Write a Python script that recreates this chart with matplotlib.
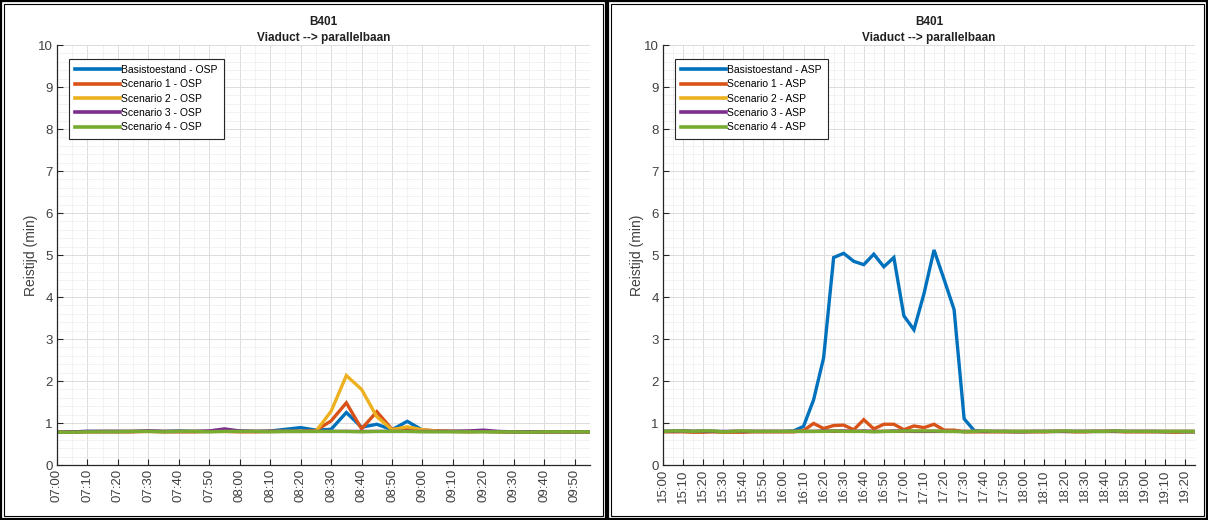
import numpy as np
import pandas as pd
import matplotlib
matplotlib.use('Agg')
import matplotlib.pyplot as plt
from matplotlib.patches import Rectangle
from matplotlib.ticker import MultipleLocator

plt.rcParams['font.family'] = ['Liberation Sans', 'DejaVu Sans']

# 5-minute travel times (minutes), morning peak (OSP) and evening peak (ASP)
osp_times = pd.date_range('2020-01-01 07:00', '2020-01-01 09:55', freq='5min')
asp_times = pd.date_range('2020-01-01 15:00', '2020-01-01 19:25', freq='5min')

osp_names = ['Basistoestand - OSP', 'Scenario 1 - OSP', 'Scenario 2 - OSP',
             'Scenario 3 - OSP', 'Scenario 4 - OSP']
asp_names = ['Basistoestand - ASP', 'Scenario 1 - ASP', 'Scenario 2 - ASP',
             'Scenario 3 - ASP', 'Scenario 4 - ASP']

osp_base = [0.78, 0.79, 0.80, 0.80, 0.80, 0.80, 0.81, 0.80, 0.81, 0.80, 0.80, 0.81,
            0.81, 0.80, 0.81, 0.85, 0.89, 0.83, 0.85, 1.25, 0.90, 0.97, 0.84, 1.04,
            0.83, 0.81, 0.80, 0.80, 0.80, 0.79, 0.79, 0.79, 0.79, 0.79, 0.79, 0.79]
osp_s1 = [0.78, 0.78, 0.79, 0.79, 0.79, 0.79, 0.80, 0.79, 0.79, 0.79, 0.80, 0.80,
          0.79, 0.79, 0.80, 0.80, 0.80, 0.82, 1.05, 1.48, 0.86, 1.27, 0.85, 0.87,
          0.83, 0.81, 0.80, 0.79, 0.80, 0.79, 0.79, 0.78, 0.78, 0.79, 0.79, 0.79]
osp_s2 = [0.78, 0.79, 0.79, 0.80, 0.80, 0.80, 0.80, 0.80, 0.80, 0.80, 0.80, 0.80,
          0.80, 0.80, 0.80, 0.80, 0.80, 0.80, 1.28, 2.13, 1.80, 1.15, 0.84, 0.91,
          0.84, 0.81, 0.80, 0.80, 0.80, 0.79, 0.79, 0.79, 0.79, 0.79, 0.79, 0.79]
osp_s3 = [0.78, 0.79, 0.80, 0.80, 0.80, 0.80, 0.81, 0.80, 0.80, 0.80, 0.81, 0.86,
          0.81, 0.80, 0.80, 0.80, 0.80, 0.80, 0.80, 0.80, 0.80, 0.80, 0.80, 0.80,
          0.80, 0.80, 0.80, 0.81, 0.83, 0.80, 0.79, 0.79, 0.79, 0.79, 0.79, 0.79]
osp_s4 = [0.78, 0.78, 0.79, 0.79, 0.79, 0.80, 0.80, 0.79, 0.80, 0.80, 0.79, 0.80,
          0.80, 0.80, 0.79, 0.80, 0.80, 0.80, 0.80, 0.80, 0.79, 0.80, 0.80, 0.80,
          0.79, 0.79, 0.79, 0.79, 0.79, 0.79, 0.79, 0.78, 0.79, 0.79, 0.79, 0.79]

asp_base = [0.80, 0.81, 0.81, 0.80, 0.81, 0.80, 0.79, 0.80, 0.80, 0.80, 0.80, 0.80,
            0.80, 0.81, 0.92, 1.55, 2.55, 4.94, 5.04, 4.85, 4.77, 5.02, 4.72, 4.94,
            3.55, 3.22, 4.08, 5.12, 4.42, 3.70, 1.10, 0.82, 0.80, 0.80, 0.80, 0.79,
            0.79, 0.80, 0.80, 0.80, 0.80, 0.80, 0.80, 0.80, 0.80, 0.81, 0.80, 0.80,
            0.80, 0.80, 0.79, 0.79, 0.79, 0.79]
asp_s1 = [0.79, 0.79, 0.79, 0.78, 0.78, 0.79, 0.78, 0.78, 0.78, 0.79, 0.79, 0.79,
          0.79, 0.79, 0.82, 0.99, 0.87, 0.94, 0.95, 0.84, 1.08, 0.86, 0.97, 0.97,
          0.84, 0.93, 0.89, 0.97, 0.83, 0.83, 0.79, 0.79, 0.79, 0.79, 0.79, 0.79,
          0.79, 0.79, 0.79, 0.80, 0.80, 0.79, 0.79, 0.80, 0.80, 0.80, 0.79, 0.79,
          0.79, 0.79, 0.79, 0.78, 0.79, 0.79]
asp_s2 = [0.80, 0.80, 0.80, 0.80, 0.80, 0.80, 0.79, 0.80, 0.80, 0.80, 0.80, 0.80,
          0.80, 0.80, 0.80, 0.80, 0.80, 0.80, 0.80, 0.80, 0.80, 0.80, 0.80, 0.80,
          0.80, 0.80, 0.80, 0.80, 0.80, 0.80, 0.80, 0.80, 0.80, 0.80, 0.80, 0.80,
          0.80, 0.80, 0.80, 0.80, 0.80, 0.80, 0.80, 0.80, 0.80, 0.80, 0.80, 0.80,
          0.80, 0.80, 0.80, 0.80, 0.80, 0.80]
asp_s3 = [0.80, 0.80, 0.81, 0.80, 0.80, 0.80, 0.80, 0.80, 0.80, 0.80, 0.80, 0.80,
          0.80, 0.80, 0.80, 0.80, 0.81, 0.81, 0.81, 0.80, 0.81, 0.80, 0.80, 0.81,
          0.81, 0.80, 0.80, 0.80, 0.80, 0.80, 0.80, 0.80, 0.80, 0.80, 0.80, 0.80,
          0.80, 0.80, 0.80, 0.80, 0.80, 0.80, 0.80, 0.80, 0.80, 0.80, 0.80, 0.80,
          0.80, 0.80, 0.80, 0.80, 0.80, 0.80]
asp_s4 = [0.80, 0.81, 0.81, 0.80, 0.81, 0.81, 0.79, 0.80, 0.81, 0.80, 0.80, 0.80,
          0.80, 0.80, 0.80, 0.80, 0.80, 0.81, 0.80, 0.80, 0.80, 0.79, 0.80, 0.80,
          0.81, 0.81, 0.81, 0.81, 0.80, 0.80, 0.79, 0.80, 0.81, 0.80, 0.80, 0.80,
          0.80, 0.80, 0.80, 0.80, 0.81, 0.80, 0.80, 0.80, 0.80, 0.81, 0.80, 0.80,
          0.80, 0.80, 0.80, 0.80, 0.80, 0.80]

colors = ['#0072BD', '#D95319', '#EDB120', '#7E2F8E', '#77AC30']
text_grey = '#404040'

W, H = 1208, 520
fig = plt.figure(figsize=(W / 100, H / 100), dpi=100)


def draw_panel(rect, times, series, names):
    ax = fig.add_axes(rect)
    x = (times - times[0]).total_seconds() / 60.0
    for vals, name, c in zip(series, names, colors):
        ax.plot(x, vals, color=c, lw=2.4, label=name, solid_joinstyle='miter')

    ax.set_xlim(0, x[-1])
    ax.set_ylim(0, 10)
    xt = np.arange(0, x[-1] + 1, 10)
    ax.set_xticks(xt)
    ax.set_xticklabels([(times[0] + pd.Timedelta(minutes=m)).strftime('%H:%M') for m in xt],
                       rotation=90, fontsize=9.5, color=text_grey)
    ax.set_yticks(range(0, 11))
    ax.tick_params(axis='y', labelsize=9.5, labelcolor=text_grey)
    ax.xaxis.set_minor_locator(MultipleLocator(5))
    ax.yaxis.set_minor_locator(MultipleLocator(0.2))
    ax.tick_params(which='both', direction='in', color='#262626')
    ax.tick_params(which='major', length=4, width=0.8, pad=3)
    ax.tick_params(which='minor', length=0)

    ax.grid(which='major', color='#dcdcdc', lw=0.7)
    ax.grid(which='minor', color='#ededed', lw=0.5)
    ax.set_axisbelow(True)

    for s in ['top', 'right']:
        ax.spines[s].set_visible(False)
    for s in ['left', 'bottom']:
        ax.spines[s].set_color('#262626')
        ax.spines[s].set_linewidth(0.9)

    ax.set_ylabel('Reistijd (min)', fontsize=10, color=text_grey, labelpad=0)
    ax.set_title('B401\nViaduct --> parallelbaan', fontsize=8.5, fontweight='bold',
                 color='#202020', pad=3, linespacing=1.45)

    leg = ax.legend(loc='upper left', bbox_to_anchor=(0.012, 0.98), fontsize=7.5,
                    handlelength=4.3, handletextpad=0.15, borderpad=0.6,
                    labelspacing=0.42, fancybox=False, framealpha=1,
                    edgecolor='#262626')
    leg.get_frame().set_linewidth(0.8)
    for line in leg.get_lines():
        line.set_linewidth(2.6)
    return ax


draw_panel([57 / W, 55 / H, 533 / W, 420 / H], osp_times,
           [osp_base, osp_s1, osp_s2, osp_s3, osp_s4], osp_names)
draw_panel([663 / W, 55 / H, 532 / W, 420 / H], asp_times,
           [asp_base, asp_s1, asp_s2, asp_s3, asp_s4], asp_names)

# double black frames round both panels
for x0, x1 in [(1, 606), (608, 1207)]:
    fig.patches.append(Rectangle((x0 / W, 1 / H), (x1 - x0) / W, 518 / H,
                                 transform=fig.transFigure, fill=False,
                                 ec='black', lw=1.6))
    fig.patches.append(Rectangle(((x0 + 3) / W, 4 / H), (x1 - x0 - 6) / W, 512 / H,
                                 transform=fig.transFigure, fill=False,
                                 ec='black', lw=0.8))

fig.savefig('out.png', dpi=100)
